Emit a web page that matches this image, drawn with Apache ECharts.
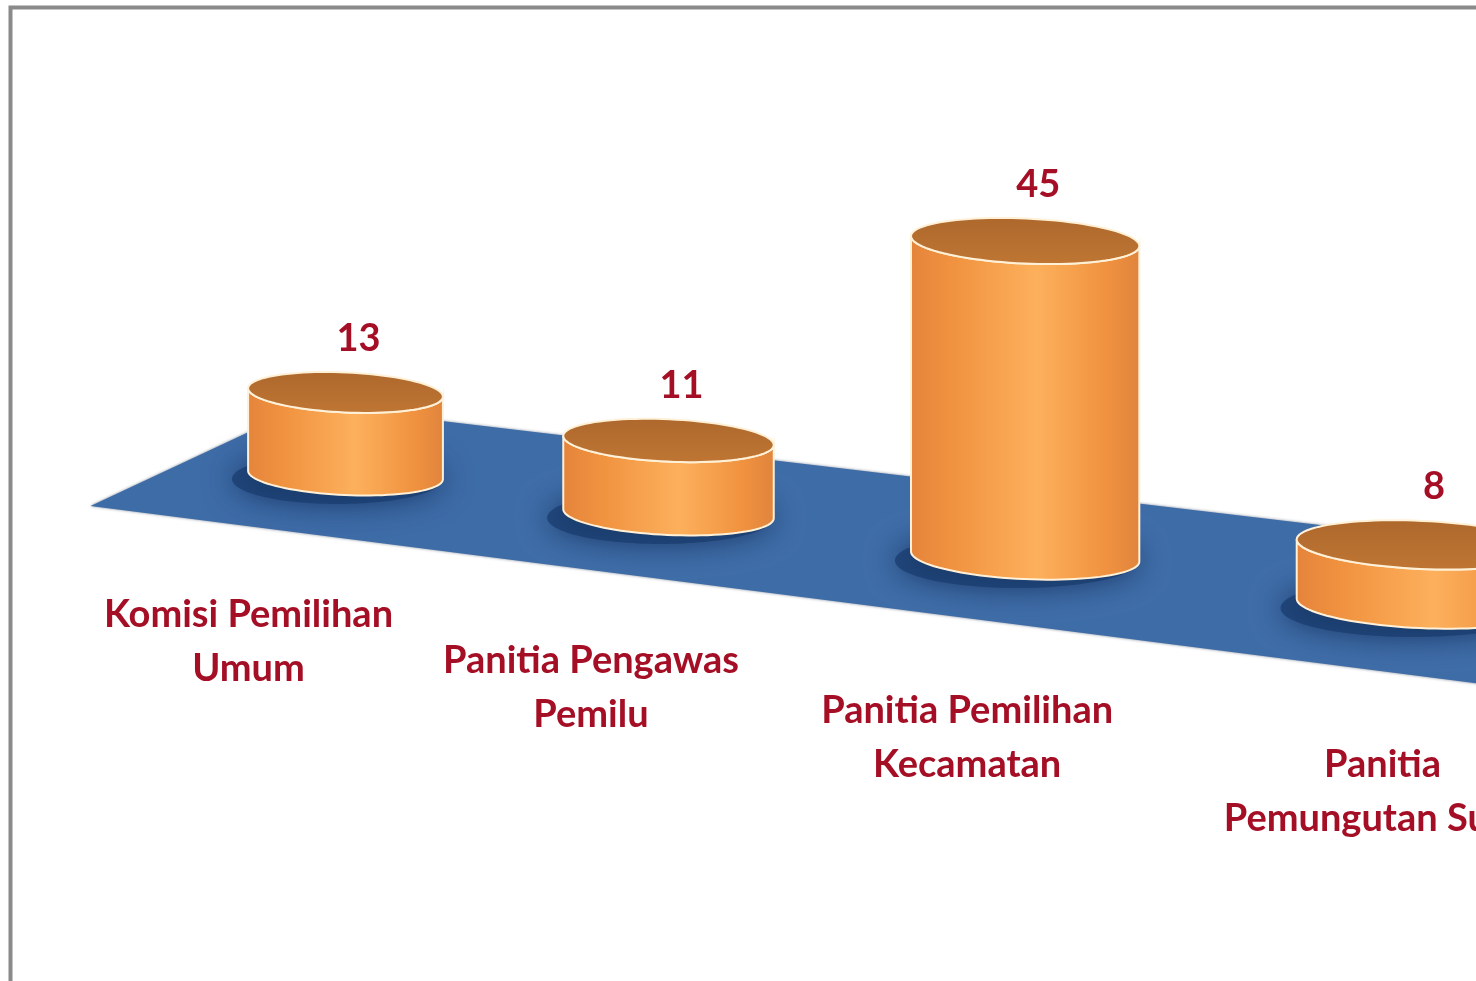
<!DOCTYPE html>
<html>
<head>
<meta charset="utf-8">
<title>Pelanggaran Pemilu</title>
<script src="https://cdn.jsdelivr.net/npm/echarts@6/dist/echarts.min.js"></script>
<style>
html,body{margin:0;padding:0;background:#fff;}
#chart_main{width:1476px;height:981px;}
</style>
</head>
<body>
<div id="chart_main"></div>
<script>
// data
var categories = ['Komisi Pemilihan\nUmum', 'Panitia Pengawas\nPemilu', 'Panitia Pemilihan\nKecamatan', 'Panitia\nPemungutan Suara'];
var values = [13, 11, 45, 8];

var depth_k = 0.0472;     // perspective, objects grow toward the right
var floor_slope = 0.12;   // floor center line
var txt_color = '#A50F26';
var txt_font = 'Lato, "Open Sans", sans-serif';

function persp(api, idx){
	var p0 = api.coord([0, 0]);
	var p = api.coord([idx, 0]);
	var bw = api.size([1, 0])[0];
	var t = (p[0] - p0[0]) / bw;
	var s = 1 / (1 - depth_k * t);
	var x = p0[0] + bw * (1 - depth_k) * t * s;
	var y = p[1] + floor_slope * (x - p0[0]);
	return {t: t, s: s, x: x, y: y};
}

function ellipse_pts(cx, cy, rx, ry, a, from, to, n){
	var pts = [];
	for(var j = 0; j <= n; j++){
		var th = from + (to - from) * j / n;
		var ex = rx * Math.cos(th), ey = ry * Math.sin(th);
		pts.push([cx + ex * Math.cos(a) - ey * Math.sin(a), cy + ex * Math.sin(a) + ey * Math.cos(a)]);
	}
	return pts;
}

function render_floor(params, api){
	var p0 = api.coord([0, 0]);
	return {
		type: 'polygon',
		shape: {points: [
			[p0[0] - 255, p0[1] + 31],
			[p0[0] - 39, p0[1] - 70],
			[p0[0] + 1253, p0[1] + 83],
			[p0[0] + 1253, p0[1] + 224]
		]},
		style: {fill: '#3E6CA7', shadowBlur: 3, shadowColor: 'rgba(40,60,90,0.6)'}
	};
}

function render_cyl(params, api){
	var idx = api.value(0);
	var v = api.value(1);
	var p = persp(api, idx);
	var rx = 97.5 * Math.pow(p.s, 1.6);
	var ry = 20 * Math.pow(p.s, 1.2);
	var a = 0.045;
	var h = api.size([0, v])[1] * p.s;
	var top = p.y - h;

	var body = ellipse_pts(p.x, p.y, rx, ry, a, 0, Math.PI, 48)
		.concat(ellipse_pts(p.x, top, rx, ry, a, Math.PI, 0, 48));
	var lid = ellipse_pts(p.x, top, rx, ry, a, 0, Math.PI * 2, 96);

	return {
		type: 'group',
		children: [{
			type: 'ellipse',
			shape: {cx: p.x - 8, cy: p.y + 4, rx: rx + 8, ry: ry + 5},
			style: {fill: 'rgba(25,60,110,0.75)', shadowBlur: 30, shadowColor: 'rgba(15,40,85,1)'}
		}, {
			type: 'polygon',
			shape: {points: body},
			style: {
				fill: new echarts.graphic.LinearGradient(0, 0, 1, 0, [
					{offset: 0, color: '#E4843C'},
					{offset: 0.18, color: '#F0923F'},
					{offset: 0.55, color: '#FDB05C'},
					{offset: 0.85, color: '#F0923F'},
					{offset: 1, color: '#E0843D'}
				]),
				stroke: '#FFF1D8', lineWidth: 2
			}
		}, {
			type: 'polygon',
			shape: {points: lid},
			style: {
				fill: new echarts.graphic.LinearGradient(0, 0, 0, 1, [
					{offset: 0, color: '#AE682C'},
					{offset: 1, color: '#BF7634'}
				]),
				stroke: '#FFF1D8', lineWidth: 2
			}
		}, {
			type: 'text',
			style: {
				text: String(v), x: p.x + 13, y: top - ry - 34,
				fill: txt_color, fontSize: 38, fontWeight: 'bold', fontFamily: txt_font,
				align: 'center', verticalAlign: 'middle'
			}
		}, {
			type: 'text',
			style: {
				text: categories[idx], x: p.x - 97 + 19.5 * p.t, y: p.y + 167 + 7 * p.t,
				fill: txt_color, fontSize: 38, fontWeight: 'bold', fontFamily: txt_font,
				lineHeight: 54, align: 'center', verticalAlign: 'middle'
			}
		}]
	};
}

var chart = echarts.init(document.getElementById('chart_main'));
var options = {
	animation: false,
	backgroundColor: '#fff',
	grid: {left: 184, width: 1304, top: 94, height: 381},
	xAxis: {type: 'category', data: categories, show: false},
	yAxis: {type: 'value', min: 0, max: 60, show: false},
	graphic: [{
		type: 'rect',
		shape: {x: 10.5, y: 7.5, width: 1700, height: 1300},
		style: {fill: 'none', stroke: '#8A8A8A', lineWidth: 4}
	}],
	series: [{
		type: 'custom',
		z: 1,
		clip: false,
		renderItem: render_floor,
		data: [[0, 0]]
	}, {
		type: 'custom',
		z: 2,
		clip: false,
		renderItem: render_cyl,
		data: values.map(function(v, i){ return [i, v]; })
	}]
};
chart.setOption(options);
</script>
</body>
</html>
